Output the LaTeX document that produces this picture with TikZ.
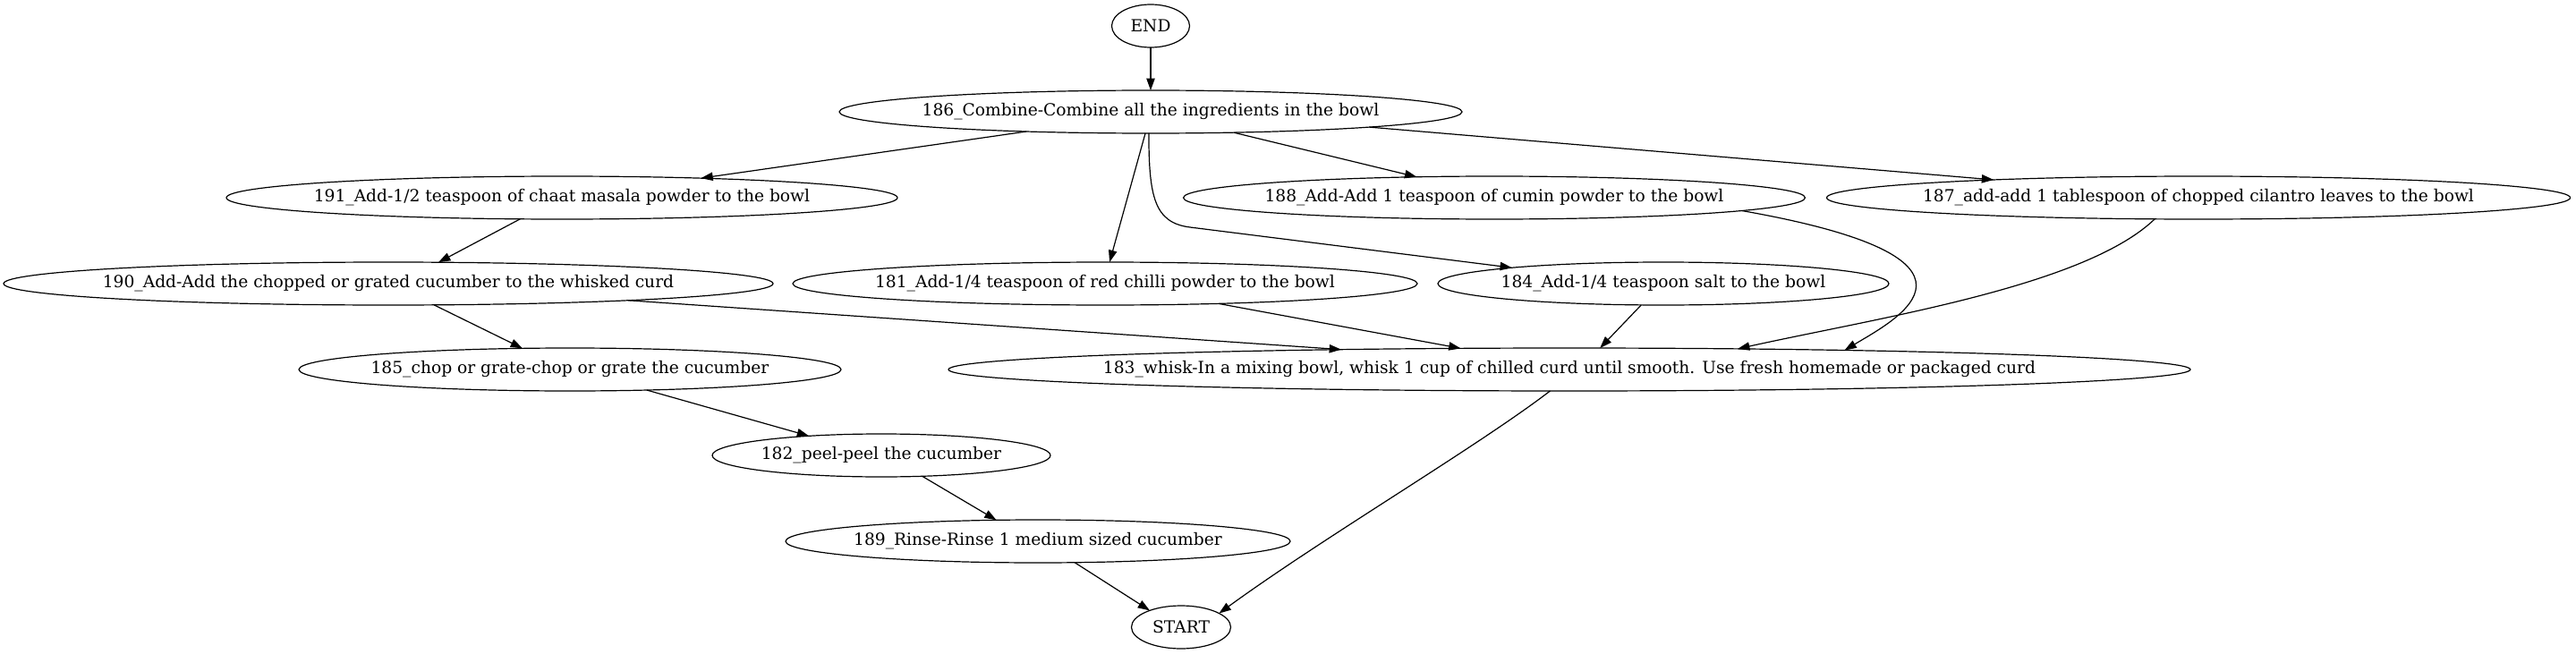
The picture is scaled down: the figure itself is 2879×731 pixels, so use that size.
\documentclass[tikz,border=0pt]{standalone}
\usepackage{fontspec}
\setmainfont{DejaVu Serif}
\usetikzlibrary{shapes.geometric,arrows.meta}
\tikzset{
  gv/.style={draw, ellipse, minimum height=36pt, inner sep=0pt, outer sep=0pt,
    line width=0.9pt, font=\fontsize{14pt}{16.8pt}\selectfont},
  gvedge/.style={draw, line width=0.9pt, -{Triangle[length=10pt,width=7pt]}}
}
\begin{document}
\begin{tikzpicture}[x=0.75pt,y=-0.75pt]
\fill[white] (0,0) rectangle (2879,731);
\useasboundingbox (0,0) rectangle (2879,731);
% nodes
\node[gv, minimum width=65.25pt] (END) at (1286,29) {\makebox[0pt]{END}};
\node[gv, minimum width=522pt] (n186) at (1286,125) {\makebox[0pt]{186\_Combine-Combine all the ingredients in the bowl}};
\node[gv, minimum width=562.5pt] (n191) at (628,221) {\makebox[0pt]{191\_Add-1/2 teaspoon of chaat masala powder to the bowl}};
\node[gv, minimum width=521.25pt] (n188) at (1670,221) {\makebox[0pt]{188\_Add-Add 1 teaspoon of cumin powder to the bowl}};
\node[gv, minimum width=623.25pt] (n187) at (2457,221) {\makebox[0pt]{187\_add-add 1 tablespoon of chopped cilantro leaves to the bowl}};
\node[gv, minimum width=645pt] (n190) at (434,317) {\makebox[0pt]{190\_Add-Add the chopped or grated cucumber to the whisked curd}};
\node[gv, minimum width=523.5pt] (n181) at (1235,317) {\makebox[0pt]{181\_Add-1/4 teaspoon of red chilli powder to the bowl}};
\node[gv, minimum width=378pt] (n184) at (1859,317) {\makebox[0pt]{184\_Add-1/4 teaspoon salt to the bowl}};
\node[gv, minimum width=1041pt] (n183) at (1754,413) {\makebox[0pt]{183\_whisk-In a mixing bowl, whisk 1 cup of chilled curd until smooth. Use fresh homemade or packaged curd}};
\node[gv, minimum width=454.5pt] (n185) at (637,413) {\makebox[0pt]{185\_chop or grate-chop or grate the cucumber}};
\node[gv, minimum width=283.5pt] (n182) at (985,509) {\makebox[0pt]{182\_peel-peel the cucumber}};
\node[gv, minimum width=423pt] (n189) at (1160,605) {\makebox[0pt]{189\_Rinse-Rinse 1 medium sized cucumber}};
\node[gv, minimum width=83.25pt] (START) at (1320,701) {\makebox[0pt]{START}};
% edges
\draw[gvedge] (END.south) -- (n186.north);
\draw[gvedge] (n186.-171.5) -- (n191.8.5);
\draw[gvedge] (n186.-14.3) -- (n188.165.7);
\draw[gvedge] (n186.-4.6) -- (n187.175.2);
\draw[gvedge] (n186.-104) -- (n181.78);
\draw[gvedge] (n186.-95) .. controls (1284,220) and (1290,249) .. (1330,254) -- (n184.174.1);
\draw[gvedge] (n191.-153.6) -- (n190.23.8);
\draw[gvedge] (n190.-25) -- (n185.156);
\draw[gvedge] (n190.-4.1) -- (n183.175.75);
\draw[gvedge] (n181.-10.6) -- (n183.169.5);
\draw[gvedge] (n184.-136.3) -- (n183.35.2);
\draw[gvedge] (n188.-3.06) .. controls (2250,289) and (2121,356) .. (n183.4.19);
\draw[gvedge] (n187.-154.1) .. controls (2330,320) and (2100,355) .. (n183.7.8);
\draw[gvedge] (n185.-15.35) -- (n182.165.24);
\draw[gvedge] (n182.-27.9) -- (n189.153.3);
\draw[gvedge] (n189.-30) -- (START.152);
\draw[gvedge] (n183.-132.7) .. controls (1650,500) and (1480,600) .. (START.20.5);
\end{tikzpicture}
\end{document}
